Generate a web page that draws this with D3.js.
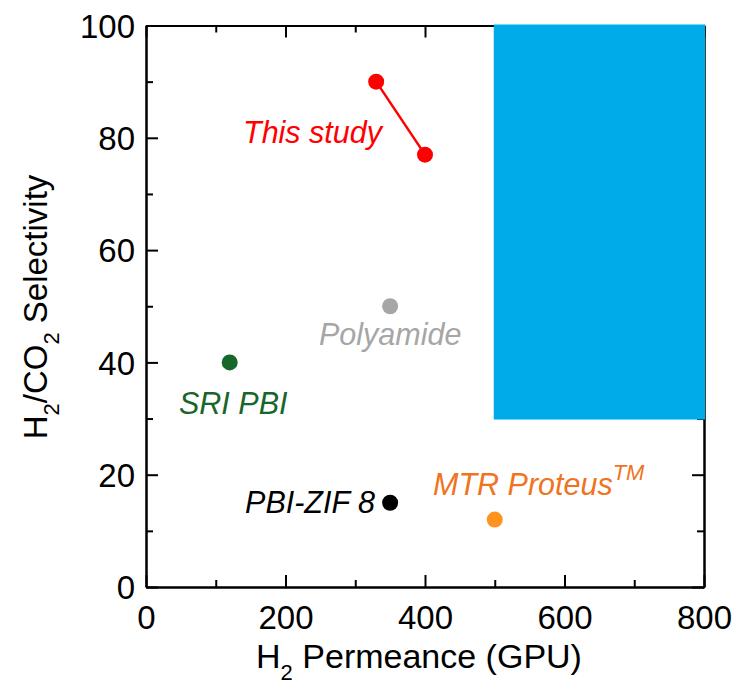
<!DOCTYPE html>
<html>
<head>
<meta charset="utf-8">
<script src="https://cdn.jsdelivr.net/npm/d3@7"></script>
<style>
  body { margin: 0; background: #fff; }
  svg { display: block; }
  text { font-family: "Liberation Sans", Arial, Helvetica, sans-serif; }
</style>
</head>
<body>
<svg id="chart" width="746" height="696"></svg>
<script>
// ---- data ----
const xTicksMajor = [0, 200, 400, 600, 800];
const xTicksMinor = [100, 300, 500, 700];
const yTicksMajor = [0, 20, 40, 60, 80, 100];
const yTicksMinor = [10, 30, 50, 70, 90];

const thisStudyX = [330, 400];
const thisStudyY = [90, 77];

const pointNames = ["Polyamide", "SRI PBI", "PBI-ZIF 8", "MTR Proteus"];
const pointX = [350, 120, 350, 500];
const pointY = [50, 40, 15, 12];

// target region: permeance from..to, selectivity from..to
const regionX = [500, 800];
const regionY = [30, 100];

// ---- layout ----
const svg = d3.select("#chart");
const L = 146, R = 704, T = 25.5, B = 587;
const x = d3.scaleLinear().domain([0, 800]).range([L, R]);
const y = d3.scaleLinear().domain([0, 100]).range([B, T]);

const axisStyle = g => {
  g.selectAll("path.domain").attr("stroke", "#000").attr("stroke-width", 2);
  g.selectAll(".tick line").attr("stroke", "#000").attr("stroke-width", 2);
  g.selectAll(".tick text").attr("font-size", 33).attr("fill", "#000")
   .attr("font-family", "Liberation Sans, Arial, sans-serif");
};

// bottom
svg.append("g").attr("transform", `translate(0,${B})`)
  .call(d3.axisBottom(x).tickValues(xTicksMinor).tickSizeInner(-7).tickSizeOuter(0).tickFormat(""))
  .call(axisStyle);
svg.append("g").attr("transform", `translate(0,${B})`)
  .call(d3.axisBottom(x).tickValues(xTicksMajor).tickSizeInner(-12).tickSizeOuter(0))
  .call(axisStyle)
  .call(g => g.selectAll(".tick text").attr("dy", "0.3em").attr("y", 32));
// top
svg.append("g").attr("transform", `translate(0,${T})`)
  .call(d3.axisTop(x).tickValues(xTicksMinor).tickSizeInner(-7).tickSizeOuter(0).tickFormat(""))
  .call(axisStyle);
svg.append("g").attr("transform", `translate(0,${T})`)
  .call(d3.axisTop(x).tickValues(xTicksMajor).tickSizeInner(-12).tickSizeOuter(0).tickFormat(""))
  .call(axisStyle);
// left
svg.append("g").attr("transform", `translate(${L},0)`)
  .call(d3.axisLeft(y).tickValues(yTicksMinor).tickSizeInner(-7).tickSizeOuter(0).tickFormat(""))
  .call(axisStyle);
svg.append("g").attr("transform", `translate(${L},0)`)
  .call(d3.axisLeft(y).tickValues(yTicksMajor).tickSizeInner(-12).tickSizeOuter(0))
  .call(axisStyle)
  .call(g => g.selectAll(".tick text").attr("x", -11).attr("dy", "0.36em"));
// right
svg.append("g").attr("transform", `translate(${R},0)`)
  .call(d3.axisRight(y).tickValues(yTicksMinor).tickSizeInner(-7).tickSizeOuter(0).tickFormat(""))
  .call(axisStyle);
svg.append("g").attr("transform", `translate(${R},0)`)
  .call(d3.axisRight(y).tickValues(yTicksMajor).tickSizeInner(-12).tickSizeOuter(0).tickFormat(""))
  .call(axisStyle);

// blue target region (drawn above axes)
svg.append("rect")
  .attr("x", x(regionX[0])).attr("y", y(regionY[1]))
  .attr("width", x(regionX[1]) - x(regionX[0]))
  .attr("height", y(regionY[0]) - y(regionY[1]))
  .attr("fill", "#00ABE9").attr("stroke", "#00ABE9").attr("stroke-width", 2);

// this study line + points
const tsData = thisStudyX.map((v, i) => [v, thisStudyY[i]]);
svg.append("path")
  .datum(tsData)
  .attr("d", d3.line().x(d => x(d[0])).y(d => y(d[1])))
  .attr("stroke", "#FF0000").attr("stroke-width", 2.5).attr("fill", "none");
svg.selectAll("circle.ts").data(tsData).enter().append("circle")
  .attr("class", "ts")
  .attr("cx", d => x(d[0])).attr("cy", d => y(d[1])).attr("r", 8)
  .attr("fill", "#FF0000");

const pointColors = ["#A6A6A6", "#17662A", "#000000", "#FF9320"];
svg.selectAll("circle.pt").data(pointNames).enter().append("circle")
  .attr("class", "pt")
  .attr("cx", (d, i) => x(pointX[i])).attr("cy", (d, i) => y(pointY[i])).attr("r", 8)
  .attr("fill", (d, i) => pointColors[i]);

// labels
const lab = (txt, xx, yy, color, anchor) =>
  svg.append("text").attr("x", xx).attr("y", yy).attr("fill", color)
    .attr("font-size", 30.5).attr("font-style", "italic")
    .attr("text-anchor", anchor || "start").text(txt);

lab("This study", 243, 143, "#FF0000");
lab("Polyamide", 319, 345, "#A6A6A6");
lab("SRI PBI", 179, 414, "#17662A");
lab("PBI-ZIF 8", 375, 513, "#000000", "end");
const mtr = lab("MTR Proteus", 433, 495, "#F07322");
mtr.append("tspan").attr("font-size", 22).attr("dy", -15).text("TM");

// axis titles
const xt = svg.append("text").attr("x", 419).attr("y", 668)
  .attr("text-anchor", "middle").attr("font-size", 34).attr("fill", "#000");
xt.append("tspan").text("H");
xt.append("tspan").attr("font-size", 22).attr("dy", 12).text("2");
xt.append("tspan").attr("dy", -12).text(" Permeance (GPU)");

const yt = svg.append("text")
  .attr("transform", "translate(47,307) rotate(-90)")
  .attr("text-anchor", "middle").attr("font-size", 33).attr("fill", "#000");
yt.append("tspan").text("H");
yt.append("tspan").attr("font-size", 22).attr("dy", 12).text("2");
yt.append("tspan").attr("dy", -12).text("/CO");
yt.append("tspan").attr("font-size", 22).attr("dy", 12).text("2");
yt.append("tspan").attr("dy", -12).text(" Selectivity");
</script>
</body>
</html>
